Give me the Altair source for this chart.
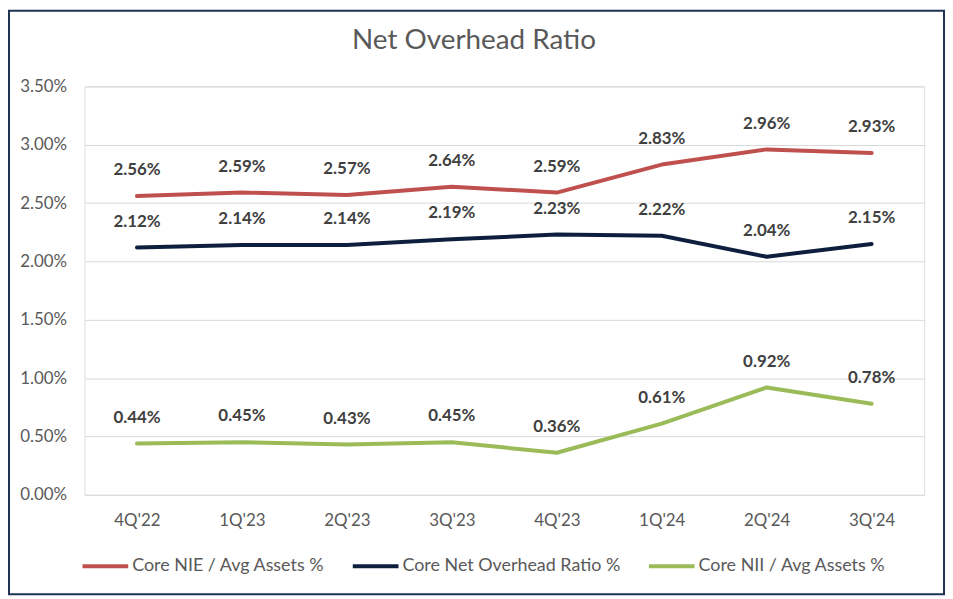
import altair as alt
import pandas as pd

quarters = ["4Q'22", "1Q'23", "2Q'23", "3Q'23", "4Q'23", "1Q'24", "2Q'24", "3Q'24"]
series_names = ["Core NIE / Avg Assets %", "Core Net Overhead Ratio %", "Core NII / Avg Assets %"]
nie = [2.56, 2.59, 2.57, 2.64, 2.59, 2.83, 2.96, 2.93]
net_overhead = [2.12, 2.14, 2.14, 2.19, 2.23, 2.22, 2.04, 2.15]
nii = [0.44, 0.45, 0.43, 0.45, 0.36, 0.61, 0.92, 0.78]
colors = ["#C0504D", "#0E1F3E", "#9BBB59"]
title_text = "Net Overhead Ratio"

rows = []
for name, vals in zip(series_names, [nie, net_overhead, nii]):
    for q, v in zip(quarters, vals):
        rows.append({"quarter": q, "series": name, "value": v / 100.0})
df = pd.DataFrame(rows)

FONT = "Lato"
W, H = 845, 411
PL, PT, PR, PB = 77, 77, 21, 101

x = alt.X("quarter:N", sort=quarters,
          scale=alt.Scale(type="point", padding=0.5),
          axis=alt.Axis(title=None, labelAngle=0, ticks=False, domain=False, grid=False,
                        labelFont=FONT, labelFontSize=17, labelColor="#595959", labelPadding=18))
y = alt.Y("value:Q",
          scale=alt.Scale(domain=[0, 0.035], nice=False),
          axis=alt.Axis(title=None, format=".2%", values=[0, 0.005, 0.01, 0.015, 0.02, 0.025, 0.03, 0.035],
                        ticks=False, domain=False, grid=True, gridColor="#D9D9D9", gridWidth=1,
                        labelFont=FONT, labelFontSize=17, labelColor="#595959", labelPadding=18))
color = alt.Color("series:N", sort=series_names,
                  scale=alt.Scale(domain=series_names, range=colors),
                  legend=alt.Legend(title=None, orient="none", direction="horizontal",
                                    legendX=-4, legendY=458,
                                    symbolType="stroke", symbolSize=2116, symbolStrokeWidth=4,
                                    labelFont=FONT, labelFontSize=18, labelColor="#595959",
                                    labelLimit=400, labelOffset=2, columnPadding=20, padding=0))

base = alt.Chart(df)
lines = base.mark_line(strokeWidth=4, strokeCap="round", strokeJoin="round").encode(x=x, y=y, color=color)
labels = base.mark_text(font=FONT, fontSize=17, fontWeight="bold", color="#404040",
                        baseline="middle", dy=-26).encode(
    x=alt.X("quarter:N", sort=quarters), y=alt.Y("value:Q"),
    text=alt.Text("value:Q", format=".2%"))

border = alt.Chart(pd.DataFrame({"a": [0]})).mark_rect(
    fill=None, stroke="#1F3352", strokeWidth=2).encode(
    x=alt.value(-76), x2=alt.value(W + PR - 1),
    y=alt.value(-76), y2=alt.value(H + PB - 1))

title = alt.Chart(pd.DataFrame({"t": [title_text]})).mark_text(
    font=FONT, fontSize=28, color="#595959", align="center", baseline="middle").encode(
    text="t:N", x=alt.value(392), y=alt.value(-46))

chart = alt.layer(border, lines, labels, title).properties(
    width=W, height=H,
    autosize=alt.AutoSizeParams(type="none"),
    padding={"left": PL, "top": PT, "right": PR, "bottom": PB},
).configure_view(strokeWidth=0).configure(background="white")

chart.save("out.html", embed_options={"renderer": "svg", "actions": False})
